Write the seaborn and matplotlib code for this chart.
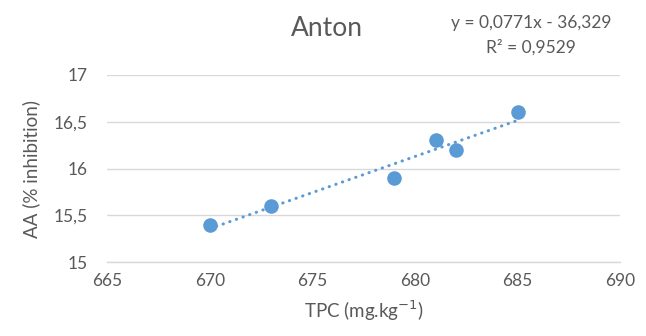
import numpy as np
import pandas as pd
import seaborn as sns
import matplotlib.pyplot as plt
from matplotlib.ticker import FuncFormatter

# DATA
tpc = [670, 673, 679, 681, 682, 685]
aa = [15.4, 15.6, 15.9, 16.3, 16.2, 16.6]
eq_text = "y = 0,0771x - 36,329"
r2_text = "R² = 0,9529"
x_ticks = [665, 670, 675, 680, 685, 690]
y_ticks = [15, 15.5, 16, 16.5, 17]

df = pd.DataFrame({"TPC": tpc, "AA": aa})

BLUE = "#5B9BD5"
GRID = "#D9D9D9"
TXT = "#595959"

sns.set_theme(style="white")
plt.rcParams["font.family"] = ["Lato", "DejaVu Sans"]

fig = plt.figure(figsize=(6.46, 3.36), dpi=100)
ax = fig.add_axes([0.166, 0.220, 0.794, 0.557])

# trendline (linear fit, round dots like Excel)
sns.regplot(data=df, x="TPC", y="AA", ax=ax, ci=None, scatter=False,
            line_kws=dict(color=BLUE, lw=2.2, ls=(0, (0.1, 2.2)),
                          dash_capstyle="round"))
sns.scatterplot(data=df, x="TPC", y="AA", ax=ax, s=110, color=BLUE,
                edgecolor=BLUE, linewidth=0, zorder=3)

ax.set_xlim(665, 690)
ax.set_ylim(15, 17)
ax.set_xticks(x_ticks)
ax.set_yticks(y_ticks)
ax.yaxis.set_major_formatter(FuncFormatter(lambda v, p: f"{v:g}".replace(".", ",")))
ax.grid(axis="y", color=GRID, lw=1)
ax.set_axisbelow(True)
for s in ["top", "right", "left"]:
    ax.spines[s].set_visible(False)
ax.spines["bottom"].set_color(GRID)
ax.spines["bottom"].set_linewidth(1)
ax.tick_params(axis="both", length=0, labelsize=12.5, colors=TXT, pad=8)
ax.tick_params(axis="y", pad=14)

ax.set_xlabel("TPC (mg.kg$^{-1}$)", fontsize=13.5, color=TXT, labelpad=7)
ax.set_ylabel("AA (% inhibition)", fontsize=13.5, color=TXT, labelpad=10)

fig.text(0.506, 0.915, "Anton", fontsize=19, color=TXT, ha="center", va="center")
fig.text(0.822, 0.932, eq_text, fontsize=12.5, color=TXT, ha="center", va="center")
fig.text(0.822, 0.858, r2_text, fontsize=12.5, color=TXT, ha="center", va="center")

fig.savefig("out.png", dpi=100, facecolor="white")
